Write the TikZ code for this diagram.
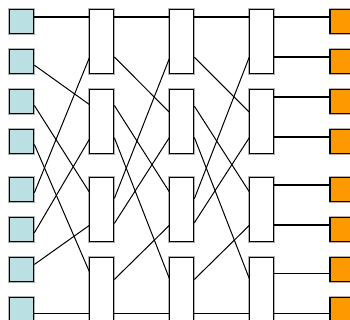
\documentclass[tikz,border=0pt]{standalone}
\usepackage{xcolor}
\usepackage{tikz}
\usetikzlibrary{calc}

\definecolor{portin}{RGB}{186,224,228}
\definecolor{portout}{RGB}{255,153,0}

\begin{document}
\begin{tikzpicture}[
    x=1pt, y=-1pt,
    halo/.style={preaction={draw=black!30, line width=2.8pt}},
    src/.style={draw, line width=1.1pt, fill=portin, minimum size=24pt, inner sep=0pt, halo},
    dst/.style={draw, line width=1.1pt, fill=portout, minimum size=24pt, inner sep=0pt, halo},
    sw/.style={draw, line width=1.1pt, fill=white, minimum width=24pt, minimum height=64pt, inner sep=0pt, halo},
    wire/.style={draw, line width=1.7pt},
    cross/.style={draw, line width=1pt}
]
    \useasboundingbox (0,0) rectangle (350,320);

    % Input ports
    \node[src] (in0) at (21.8,21.3) {};
    \node[src] (in1) at (21.8,61.3) {};
    \node[src] (in2) at (21.8,101.3) {};
    \node[src] (in3) at (21.8,141.3) {};
    \node[src] (in4) at (21.8,189.3) {};
    \node[src] (in5) at (21.8,229.3) {};
    \node[src] (in6) at (21.8,269.3) {};
    \node[src] (in7) at (21.8,309.3) {};

    % Switch columns
    \node[sw] (A0) at (101.8,41.3) {};
    \node[sw] (A1) at (101.8,121.3) {};
    \node[sw] (A2) at (101.8,209.3) {};
    \node[sw] (A3) at (101.8,289.3) {};
    \node[sw] (B0) at (181.8,41.3) {};
    \node[sw] (B1) at (181.8,121.3) {};
    \node[sw] (B2) at (181.8,209.3) {};
    \node[sw] (B3) at (181.8,289.3) {};
    \node[sw] (C0) at (261.8,41.3) {};
    \node[sw] (C1) at (261.8,121.3) {};
    \node[sw] (C2) at (261.8,209.3) {};
    \node[sw] (C3) at (261.8,289.3) {};

    % Output ports
    \node[dst] (out0) at (342,21.3) {};
    \node[dst] (out1) at (342,61.3) {};
    \node[dst] (out2) at (342,101.3) {};
    \node[dst] (out3) at (342,141.3) {};
    \node[dst] (out4) at (342,189.3) {};
    \node[dst] (out5) at (342,229.3) {};
    \node[dst] (out6) at (342,269.3) {};
    \node[dst] (out7) at (342,309.3) {};

    % Inputs -> first column
    \draw[wire] ($(in0.north east)+(0,8)$) -- ($(A0.north west)+(0,8)$);
    \draw[cross] ($(in1.north east)+(0,16.4)$) -- ($(A1.north west)+(0,15.7)$);
    \draw[cross] ($(in2.north east)+(0,16.7)$) -- ($(A2.north west)+(0,15.2)$);
    \draw[cross] ($(in3.north east)+(0,15.7)$) -- ($(A3.north west)+(0,14.7)$);
    \draw[cross] ($(in4.north east)+(0,16)$) -- ($(A0.north west)+(0,49.2)$);
    \draw[cross] ($(in5.north east)+(0,16)$) -- ($(A1.north west)+(0,50.7)$);
    \draw[cross] ($(in6.north east)+(0,7.7)$) -- ($(A2.north west)+(0,48.7)$);
    \draw[wire] ($(in7.north east)+(0,16.7)$) -- ($(A3.north west)+(0,56.7)$);

    % First -> second column
    \draw[wire] ($(A0.north east)+(0,8)$) -- ($(B0.north west)+(0,8)$);
    \draw[cross] ($(A0.north east)+(0,48.2)$) -- ($(B1.north west)+(0,23.4)$);
    \draw[cross] ($(A1.north east)+(0,16.7)$) -- ($(B2.north west)+(0,15)$);
    \draw[cross] ($(A1.north east)+(0,49)$) -- ($(B3.north west)+(0,21.5)$);
    \draw[cross] ($(A2.north east)+(0,21.7)$) -- ($(B0.north west)+(0,50)$);
    \draw[cross] ($(A2.north east)+(0,46.7)$) -- ($(B1.north west)+(0,49)$);
    \draw[cross] ($(A3.north east)+(0,22.7)$) -- ($(B2.north west)+(0,48.7)$);
    \draw[wire] ($(A3.north east)+(0,56.7)$) -- ($(B3.north west)+(0,56.7)$);

    % Second -> third column
    \draw[wire] ($(B0.north east)+(0,8)$) -- ($(C0.north west)+(0,8)$);
    \draw[cross] ($(B0.north east)+(0,48.4)$) -- ($(C1.north west)+(0,23.4)$);
    \draw[cross] ($(B1.north east)+(0,17.4)$) -- ($(C2.north west)+(0,15)$);
    \draw[cross] ($(B1.north east)+(0,48.7)$) -- ($(C3.north west)+(0,21.7)$);
    \draw[cross] ($(B2.north east)+(0,22)$) -- ($(C0.north west)+(0,48.4)$);
    \draw[cross] ($(B2.north east)+(0,46)$) -- ($(C1.north west)+(0,49)$);
    \draw[cross] ($(B3.north east)+(0,22.7)$) -- ($(C2.north west)+(0,48.7)$);
    \draw[wire] ($(B3.north east)+(0,56.7)$) -- ($(C3.north west)+(0,56.7)$);

    % Third column -> outputs
    \draw[wire] ($(C0.north east)+(0,8)$) -- ($(out0.north west)+(0,8)$);
    \draw[wire] ($(C0.north east)+(0,48.4)$) -- ($(out1.north west)+(0,8.4)$);
    \draw[wire] ($(C1.north east)+(0,8.4)$) -- ($(out2.north west)+(0,8.4)$);
    \draw[wire] ($(C1.north east)+(0,48.4)$) -- ($(out3.north west)+(0,8.4)$);
    \draw[wire] ($(C2.north east)+(0,8.4)$) -- ($(out4.north west)+(0,8.4)$);
    \draw[wire] ($(C2.north east)+(0,48.4)$) -- ($(out5.north west)+(0,8.4)$);
    \draw[wire] ($(C3.north east)+(0,16.7)$) -- ($(out6.north west)+(0,16.7)$);
    \draw[wire] ($(C3.north east)+(0,56.7)$) -- ($(out7.north west)+(0,16.7)$);
\end{tikzpicture}
\end{document}
